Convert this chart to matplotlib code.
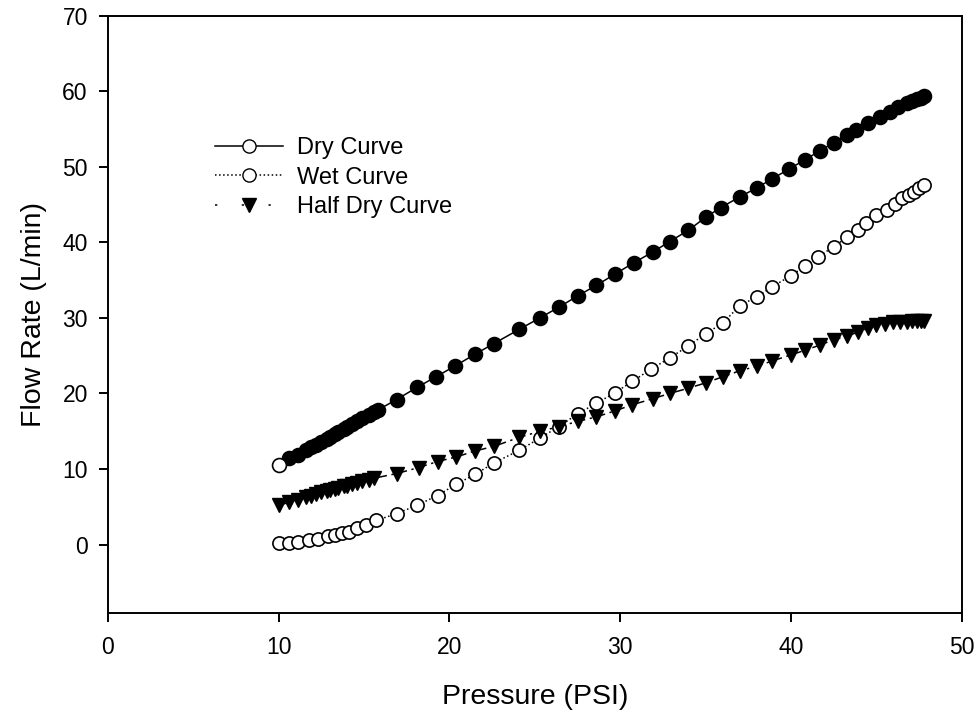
import matplotlib
matplotlib.use("Agg")
import matplotlib.pyplot as plt
from matplotlib.lines import Line2D

plt.rcParams['font.family'] = ['Liberation Sans', 'DejaVu Sans']

# Dry curve
dry_p = [10.0, 10.6, 11.1, 11.6, 11.9, 12.2, 12.5, 12.8, 13.0, 13.3, 13.5, 13.8,
         14.0, 14.3, 14.6, 14.9, 15.3, 15.6, 15.8, 16.9, 18.1, 19.2, 20.3, 21.5,
         22.6, 24.1, 25.3, 26.4, 27.5, 28.6, 29.7, 30.8, 31.9, 32.9, 34.0, 35.0,
         35.9, 37.0, 38.0, 38.9, 39.9, 40.8, 41.7, 42.5, 43.3, 43.8, 44.5, 45.2,
         45.8, 46.3, 46.8, 47.1, 47.4, 47.6, 47.8]
dry_q = [10.5, 11.4, 11.9, 12.5, 12.9, 13.2, 13.6, 14.0, 14.3, 14.6, 14.9, 15.3,
         15.6, 15.9, 16.3, 16.7, 17.1, 17.5, 17.8, 19.2, 20.8, 22.2, 23.6, 25.2,
         26.6, 28.5, 30.0, 31.4, 32.9, 34.3, 35.8, 37.3, 38.7, 40.1, 41.6, 43.3,
         44.6, 46.0, 47.2, 48.4, 49.7, 50.9, 52.1, 53.2, 54.2, 54.8, 55.8, 56.6,
         57.3, 57.9, 58.4, 58.7, 58.9, 59.1, 59.3]

# Wet curve
wet_p = [10.0, 10.6, 11.1, 11.8, 12.3, 12.9, 13.3, 13.7, 14.1, 14.6, 15.1, 15.7,
         16.9, 18.1, 19.3, 20.4, 21.5, 22.6, 24.1, 25.3, 26.4, 27.5, 28.6, 29.7,
         30.7, 31.8, 32.9, 34.0, 35.0, 36.0, 37.0, 38.0, 38.9, 40.0, 40.8, 41.6,
         42.5, 43.3, 43.9, 44.4, 45.0, 45.6, 46.1, 46.5, 46.9, 47.2, 47.5, 47.8]
wet_q = [0.2, 0.2, 0.3, 0.6, 0.8, 1.1, 1.3, 1.5, 1.7, 2.2, 2.6, 3.2,
         4.1, 5.2, 6.5, 8.0, 9.3, 10.8, 12.5, 14.1, 15.6, 17.3, 18.7, 20.1,
         21.6, 23.2, 24.7, 26.3, 27.9, 29.3, 31.6, 32.8, 34.1, 35.6, 36.8, 38.1,
         39.4, 40.7, 41.6, 42.6, 43.6, 44.3, 45.1, 45.8, 46.3, 46.7, 47.2, 47.6]

# Half dry curve
half_p = [10.0, 10.6, 11.1, 11.6, 11.9, 12.2, 12.5, 12.8, 13.0, 13.3, 13.5, 13.8,
          14.0, 14.3, 14.6, 14.9, 15.3, 15.6, 16.9, 18.2, 19.3, 20.4, 21.5, 22.6,
          24.1, 25.3, 26.4, 27.5, 28.6, 29.7, 30.7, 31.9, 32.9, 34.0, 35.0, 36.0,
          37.0, 38.0, 38.9, 40.0, 40.8, 41.7, 42.5, 43.3, 43.9, 44.5, 45.0, 45.5,
          46.0, 46.4, 46.8, 47.1, 47.4, 47.6, 47.8]
half_q = [5.2, 5.6, 5.9, 6.3, 6.5, 6.7, 6.9, 7.1, 7.2, 7.4, 7.5, 7.7,
          7.8, 8.0, 8.2, 8.4, 8.6, 8.8, 9.4, 10.2, 11.0, 11.6, 12.4, 13.0,
          14.2, 15.0, 15.6, 16.3, 16.9, 17.7, 18.5, 19.3, 20.0, 20.7, 21.4, 22.2,
          23.0, 23.6, 24.3, 25.1, 25.7, 26.4, 27.1, 27.6, 28.1, 28.6, 29.0, 29.2,
          29.4, 29.5, 29.5, 29.6, 29.6, 29.6, 29.6]

fig = plt.figure(figsize=(9.79, 7.15), dpi=100)
ax = fig.add_axes([0.1103, 0.1431, 0.8720, 0.8352])

ax.plot(dry_p, dry_q, color='black', lw=1.1, zorder=2)
ax.plot(dry_p[1:], dry_q[1:], 'o', ms=10, mfc='black', mec='black', mew=1.2, zorder=3)
ax.plot(dry_p[:1], dry_q[:1], 'o', ms=10, mfc='white', mec='black', mew=1.2, zorder=3)

ax.plot(wet_p, wet_q, color='black', lw=1.1, ls=':', marker='o', ms=9.5,
        mfc='white', mec='black', mew=1.2, zorder=3)

ax.plot(half_p, half_q, color='black', lw=1.1, ls=(0, (6, 3, 1.5, 3)),
        marker='v', ms=10.5, mfc='black', mec='black', zorder=3)

ax.set_xlim(0, 50)
ax.set_ylim(-9, 70)
ax.set_xticks(range(0, 51, 10))
ax.set_yticks(range(0, 71, 10))

for s in ax.spines.values():
    s.set_linewidth(1.4)
ax.tick_params(direction='out', length=6.5, width=1.4, labelsize=16.5)
ax.tick_params(axis='x', pad=10)
ax.tick_params(axis='y', pad=8)

ax.set_xlabel('Pressure (PSI)', fontsize=20.5, labelpad=18)
ax.set_ylabel('Flow Rate (L/min)', fontsize=20.5, labelpad=11)

handles = [
    Line2D([], [], color='black', lw=1.1, marker='o', ms=9.5, mfc='white', mec='black'),
    Line2D([], [], color='black', lw=1.1, ls=':', marker='o', ms=9.5, mfc='white', mec='black'),
    Line2D([], [], color='black', lw=1.1, ls=(0, (1.5, 16)), marker='v', ms=10.5,
           mfc='black', mec='black'),
]
ax.legend(handles, ['Dry Curve', 'Wet Curve', 'Half Dry Curve'], frameon=False,
          fontsize=17, numpoints=1, handlelength=2.9, handletextpad=0.6,
          labelspacing=0.32, loc='upper left', bbox_to_anchor=(0.100, 0.832))

fig.savefig('out.png', dpi=100)
